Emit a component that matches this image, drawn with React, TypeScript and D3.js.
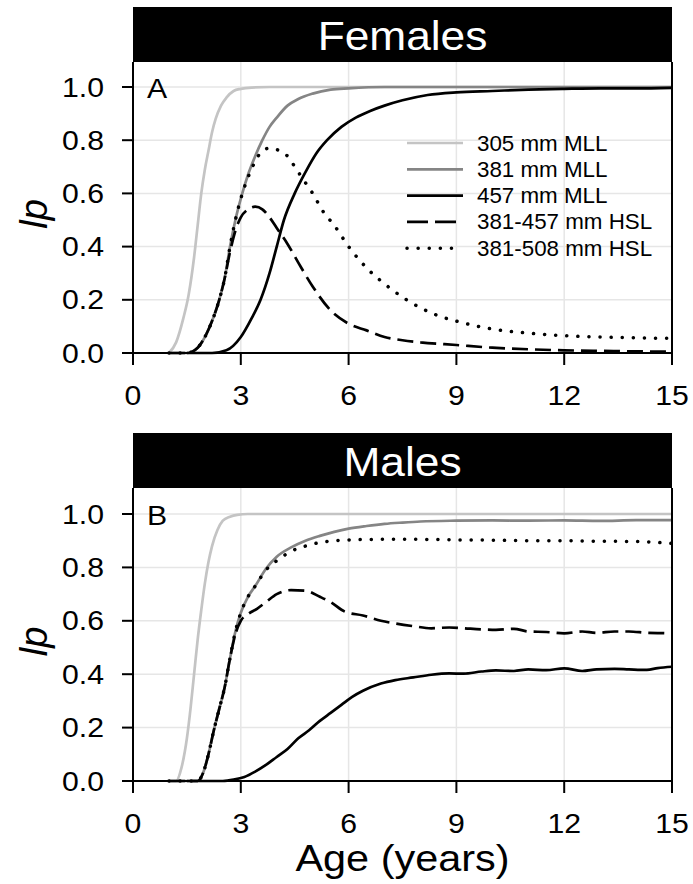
import React from "react";
import * as d3 from "d3";

// ---------- Data ----------
const xTicks = [0, 3, 6, 9, 12, 15];
const yTicks = [0, 0.2, 0.4, 0.6, 0.8, 1.0];

// Females
const fAge305 = [1.0, 1.2, 1.4, 1.55, 1.7, 1.8, 1.9, 2.0, 2.1, 2.2, 2.3, 2.45, 2.6, 2.8, 3.0, 3.3, 3.8, 5, 15];
const fVal305 = [0, 0.04, 0.13, 0.22, 0.36, 0.48, 0.6, 0.69, 0.76, 0.83, 0.88, 0.93, 0.96, 0.985, 0.993, 0.998, 1, 1, 1];

const fAge381 = [1.0, 1.5, 1.8, 2.0, 2.2, 2.4, 2.55, 2.7, 2.85, 3.0, 3.2, 3.4, 3.6, 3.8, 4.0, 4.3, 4.6, 5.0, 5.5, 6, 7, 15];
const fVal381 = [0, 0, 0.02, 0.06, 0.12, 0.2, 0.28, 0.4, 0.5, 0.58, 0.67, 0.74, 0.8, 0.85, 0.885, 0.93, 0.955, 0.975, 0.99, 0.995, 1.0, 1.0];

const fAge457 = [1.5, 2.2, 2.6, 3.0, 3.3, 3.55, 3.8, 4.0, 4.2, 4.5, 4.8, 5.1, 5.4, 5.8, 6.2, 6.6, 7.0, 7.5, 8.2, 9, 10, 11, 12, 13, 14, 15];
const fVal457 = [0, 0, 0.01, 0.06, 0.13, 0.2, 0.3, 0.4, 0.5, 0.6, 0.68, 0.75, 0.8, 0.85, 0.885, 0.91, 0.93, 0.95, 0.97, 0.98, 0.985, 0.99, 0.993, 0.995, 0.995, 0.997];

const fAgeH457 = [1.0, 1.5, 1.8, 2.0, 2.2, 2.4, 2.55, 2.7, 2.85, 3.0, 3.2, 3.4, 3.6, 3.8, 4.0, 4.3, 4.6, 5.0, 5.5, 6.0, 6.5, 7.0, 7.5, 8, 9, 10, 11, 12, 13, 14, 15];
const fValH457 = [0, 0, 0.02, 0.06, 0.12, 0.2, 0.28, 0.38, 0.46, 0.51, 0.54, 0.55, 0.54, 0.51, 0.47, 0.41, 0.34, 0.25, 0.16, 0.11, 0.085, 0.06, 0.048, 0.04, 0.03, 0.02, 0.014, 0.01, 0.008, 0.006, 0.005];

const fAgeH508 = [1.0, 1.5, 1.8, 2.0, 2.2, 2.4, 2.55, 2.7, 2.85, 3.0, 3.2, 3.4, 3.6, 3.8, 4.0, 4.3, 4.55, 4.8, 5.0, 5.3, 5.6, 6.0, 6.5, 7.0, 7.5, 8, 8.5, 9, 10, 11, 12, 13, 14, 15];
const fValH508 = [0, 0, 0.02, 0.06, 0.12, 0.2, 0.28, 0.4, 0.5, 0.58, 0.66, 0.72, 0.76, 0.77, 0.765, 0.74, 0.69, 0.64, 0.6, 0.53, 0.48, 0.4, 0.32, 0.26, 0.21, 0.17, 0.14, 0.12, 0.09, 0.075, 0.065, 0.06, 0.057, 0.055];

// Males
const mAge305 = [1.0, 1.2, 1.35, 1.5, 1.6, 1.7, 1.8, 1.9, 2.0, 2.1, 2.2, 2.35, 2.5, 2.7, 2.9, 3.2, 4, 15];
const mVal305 = [0, 0, 0.05, 0.16, 0.27, 0.4, 0.53, 0.64, 0.74, 0.82, 0.88, 0.94, 0.975, 0.99, 0.997, 1, 1, 1];

const mAge381 = [1.0, 1.8, 1.95, 2.1, 2.25, 2.4, 2.55, 2.7, 2.85, 3.0, 3.2, 3.4, 3.7, 4.0, 4.4, 4.8, 5.2, 5.6, 6.0, 6.5, 7, 7.5, 8, 9, 10, 11, 12, 13, 14, 15];
const mVal381 = [0, 0, 0.03, 0.1, 0.19, 0.27, 0.35, 0.46, 0.56, 0.63, 0.69, 0.73, 0.795, 0.84, 0.875, 0.9, 0.918, 0.933, 0.945, 0.955, 0.963, 0.968, 0.972, 0.975, 0.976, 0.975, 0.976, 0.974, 0.977, 0.977];

const mAge457 = [1.5, 2.5, 2.8, 3.1, 3.4, 3.7, 4.0, 4.3, 4.6, 4.9, 5.2, 5.5, 5.8, 6.1, 6.4, 6.9, 7.3, 7.8, 8.3, 8.8, 9.2, 9.7, 10.1, 10.6, 11.0, 11.5, 12, 12.5, 12.9, 13.4, 13.8, 14.3, 14.6, 15];
const mVal457 = [0, 0, 0.005, 0.015, 0.035, 0.06, 0.09, 0.12, 0.16, 0.19, 0.225, 0.255, 0.285, 0.315, 0.338, 0.365, 0.378, 0.388, 0.398, 0.403, 0.402, 0.41, 0.414, 0.412, 0.418, 0.415, 0.422, 0.412, 0.418, 0.42, 0.418, 0.416, 0.423, 0.428];

const mAgeH457 = [1.0, 1.8, 1.95, 2.1, 2.25, 2.4, 2.55, 2.7, 2.85, 3.0, 3.2, 3.45, 3.7, 4.0, 4.4, 4.8, 5.2, 5.5, 5.9, 6.4, 6.9, 7.3, 7.8, 8.3, 8.8, 9.2, 9.7, 10.1, 10.6, 11.0, 11.5, 12, 12.5, 12.9, 13.4, 13.8, 14.3, 14.9, 15];
const mValH457 = [0, 0, 0.03, 0.1, 0.19, 0.27, 0.35, 0.46, 0.55, 0.6, 0.625, 0.645, 0.67, 0.7, 0.715, 0.713, 0.69, 0.67, 0.634, 0.62, 0.6, 0.59, 0.58, 0.572, 0.575, 0.572, 0.568, 0.566, 0.57, 0.56, 0.558, 0.553, 0.56, 0.555, 0.56, 0.56, 0.555, 0.553, 0.552];

const mAgeH508 = [1.0, 1.8, 1.95, 2.1, 2.25, 2.4, 2.55, 2.7, 2.85, 3.0, 3.2, 3.4, 3.7, 4.0, 4.4, 4.8, 5.2, 5.6, 6, 7, 8, 9, 10, 11, 12, 13, 14, 15];
const mValH508 = [0, 0, 0.03, 0.1, 0.19, 0.27, 0.35, 0.46, 0.56, 0.63, 0.69, 0.73, 0.79, 0.825, 0.86, 0.88, 0.893, 0.9, 0.903, 0.905, 0.905, 0.903, 0.902, 0.9, 0.9, 0.898, 0.897, 0.89];

const legendLabels = ["305 mm MLL", "381 mm MLL", "457 mm MLL", "381-457 mm HSL", "381-508 mm HSL"];

// ---------- Styles ----------
const styles = [
  { stroke: "#c4c4c4", dash: null as string | null, width: 2.7, cap: "butt" },
  { stroke: "#858585", dash: null as string | null, width: 2.7, cap: "butt" },
  { stroke: "#000000", dash: null as string | null, width: 2.7, cap: "butt" },
  { stroke: "#000000", dash: "16 7", width: 2.7, cap: "butt" },
  { stroke: "#000000", dash: "0.1 11", width: 3.5, cap: "round" },
];

const FONT = "'Liberation Sans', Arial, Helvetica, sans-serif";
const SX = 1.12; // horizontal stretch of the reference's lettering

const zip = (a: number[], b: number[]) => a.map((x, i) => [x, b[i]] as [number, number]);

const femaleSeries = [
  zip(fAge305, fVal305),
  zip(fAge381, fVal381),
  zip(fAge457, fVal457),
  zip(fAgeH457, fValH457),
  zip(fAgeH508, fValH508),
];
const maleSeries = [
  zip(mAge305, mVal305),
  zip(mAge381, mVal381),
  zip(mAge457, mVal457),
  zip(mAgeH457, mValH457),
  zip(mAgeH508, mValH508),
];

const xScale = d3.scaleLinear().domain([0, 15]).range([133, 672]);

function T(props: {
  x: number;
  y: number;
  size: number;
  anchor?: string;
  fill?: string;
  sx?: number;
  italic?: boolean;
  children: React.ReactNode;
}) {
  const { x, y, size, anchor = "start", fill = "#000", sx = SX, italic, children } = props;
  return (
    <text
      transform={`translate(${x},${y}) scale(${sx},1)`}
      textAnchor={anchor as any}
      fontSize={size}
      fontFamily={FONT}
      fill={fill}
      fontStyle={italic ? "italic" : undefined}
    >
      {children}
    </text>
  );
}

type PanelProps = {
  title: string;
  letter: string;
  barTop: number;
  y0: number;
  y1: number;
  series: [number, number][][];
  legend: boolean;
};

function Panel({ title, letter, barTop, y0, y1, series, legend }: PanelProps) {
  const yScale = d3.scaleLinear().domain([0, 1]).range([y0, y1]);
  const barH = 55;
  const plotTop = barTop + barH;
  const left = xScale(0);
  const right = xScale(15);
  const line = d3
    .line<[number, number]>()
    .x((d) => xScale(d[0]))
    .y((d) => yScale(d[1]))
    .curve(d3.curveMonotoneX);
  const drawOrder = [0, 1, 2, 3, 4];
  return (
    <g>
      {xTicks.slice(1, -1).map((t) => (
        <line key={"gx" + t} x1={xScale(t)} x2={xScale(t)} y1={plotTop} y2={y0} stroke="#e6e6e6" strokeWidth={1.5} />
      ))}
      {yTicks.slice(1).map((t) => (
        <line key={"gy" + t} x1={left} x2={right} y1={yScale(t)} y2={yScale(t)} stroke="#e6e6e6" strokeWidth={1.5} />
      ))}
      <rect x={left} y={barTop} width={right - left} height={barH} fill="#000" />
      <T x={(left + right) / 2} y={barTop + barH - 12} size={41} anchor="middle" fill="#fff" sx={1.08}>
        {title}
      </T>
      {drawOrder.map((i) => (
        <path
          key={"s" + i}
          d={line(series[i]) || ""}
          fill="none"
          stroke={styles[i].stroke}
          strokeWidth={styles[i].width}
          strokeDasharray={styles[i].dash || undefined}
          strokeLinecap={styles[i].cap as any}
        />
      ))}
      <line x1={left} x2={left} y1={plotTop} y2={y0 + 12} stroke="#000" strokeWidth={2} />
      <line x1={right} x2={right} y1={plotTop} y2={y0 + 12} stroke="#000" strokeWidth={2} />
      <line x1={left - 11} x2={right} y1={y0} y2={y0} stroke="#000" strokeWidth={2} />
      {yTicks.map((t) => (
        <g key={"yt" + t}>
          <line x1={left - 11} x2={left} y1={yScale(t)} y2={yScale(t)} stroke="#000" strokeWidth={2} />
          <T x={left - 29} y={yScale(t) + 9.5} size={27} anchor="end">
            {t.toFixed(1)}
          </T>
        </g>
      ))}
      {xTicks.map((t) => (
        <g key={"xt" + t}>
          <line x1={xScale(t)} x2={xScale(t)} y1={y0} y2={y0 + 12} stroke="#000" strokeWidth={2} />
          <T x={xScale(t)} y={y0 + 52} size={27} anchor="middle">
            {t}
          </T>
        </g>
      ))}
      <T x={left + 14} y={y1 + 10.5} size={27}>
        {letter}
      </T>
      <text
        transform={`translate(47,${(y0 + y1) / 2 - 6}) rotate(-90)`}
        textAnchor="middle"
        fontSize={38}
        fontStyle="italic"
        fontFamily={FONT}
        fill="#000"
      >
        lp
      </text>
      {legend && (
        <g>
          {legendLabels.map((lab, i) => {
            const yy = 143 + i * 26.3;
            return (
              <g key={lab}>
                <line
                  x1={407}
                  x2={i === 4 ? 458 : 463}
                  y1={yy}
                  y2={yy}
                  stroke={styles[i].stroke}
                  strokeWidth={styles[i].width}
                  strokeDasharray={i === 3 ? "21 7" : styles[i].dash || undefined}
                  strokeLinecap={styles[i].cap as any}
                />
                <T x={477} y={yy + 7.5} size={21.5} sx={1.04}>
                  {lab}
                </T>
              </g>
            );
          })}
        </g>
      )}
    </g>
  );
}

export default function App() {
  return (
    <svg
      width={693}
      height={884}
      viewBox="0 0 693 884"
      style={{ position: "absolute", left: 0, top: 0, background: "#fff" }}
    >
      <rect x={0} y={0} width={693} height={884} fill="#fff" />
      <Panel title="Females" letter="A" barTop={7} y0={353} y1={87} series={femaleSeries} legend={true} />
      <Panel title="Males" letter="B" barTop={433} y0={781} y1={514} series={maleSeries} legend={false} />
      <T x={(xScale(0) + xScale(15)) / 2} y={871} size={37} anchor="middle" sx={1.12}>
        Age (years)
      </T>
    </svg>
  );
}
